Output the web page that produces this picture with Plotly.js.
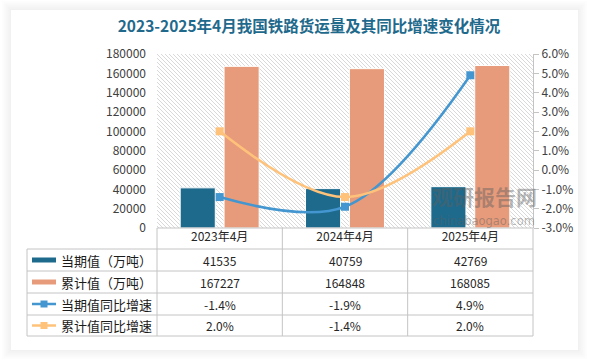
<!DOCTYPE html>
<html>
<head>
<meta charset="utf-8">
<script src="https://cdn.plot.ly/plotly-3.0.1.min.js"></script>
<style>html,body{margin:0;padding:0;background:#fff;}#chart{width:589px;height:359px;}</style>
</head>
<body>
<div id="chart"></div>
<script>
// ---- data ----
const categories = ['2023年4月', '2024年4月', '2025年4月'];
const currentVals = [41535, 40759, 42769];      // 当期值（万吨）
const cumulativeVals = [167227, 164848, 168085]; // 累计值（万吨）
const currentYoY = [-1.4, -1.9, 4.9];            // 当期值同比增速 (%)
const cumulativeYoY = [2.0, -1.4, 2.0];          // 累计值同比增速 (%)
const seriesNames = ['当期值（万吨）', '累计值（万吨）', '当期值同比增速', '累计值同比增速'];
const leftTicks = [0, 20000, 40000, 60000, 80000, 100000, 120000, 140000, 160000, 180000];
const rightTicks = [-3, -2, -1, 0, 1, 2, 3, 4, 5, 6];
const titleText = '2023-2025年4月我国铁路货运量及其同比增速变化情况';

// ---- style ----
const W = 589, H = 359;
const L = 157, R = 533, T = 54, B = 228;
const fx = px => (px - L) / (R - L);
const fy = py => (B - py) / (B - T);
const cBlue = '#1d6a8d', cOrange = '#e79b7b', cLineBlue = '#4396cf', cLineOrange = '#ffc27a';
const gridC = '#c4c4c4';
const fontFam = '"Noto Sans CJK SC", "Noto Sans", sans-serif';

const traces = [
  {type: 'bar', name: seriesNames[0], x: categories, y: currentVals, yaxis: 'y',
   marker: {color: cBlue, line: {color: '#ffffff', width: 1}}, hoverinfo: 'none'},
  {type: 'bar', name: seriesNames[1], x: categories, y: cumulativeVals, yaxis: 'y',
   marker: {color: cOrange, line: {color: '#ffffff', width: 1}}, hoverinfo: 'none'},
  {type: 'scatter', mode: 'lines+markers', name: seriesNames[2], x: categories, y: currentYoY, yaxis: 'y2',
   line: {color: cLineBlue, width: 2.5, shape: 'spline', smoothing: 1},
   marker: {symbol: 'square', size: 8, color: cLineBlue}, hoverinfo: 'none'},
  {type: 'scatter', mode: 'lines+markers', name: seriesNames[3], x: categories, y: cumulativeYoY, yaxis: 'y2',
   line: {color: cLineOrange, width: 2.5, shape: 'spline', smoothing: 1},
   marker: {symbol: 'square', size: 8, color: cLineOrange}, hoverinfo: 'none'}
];

const shapes = [];
const annotations = [];

// card shadow (margins only)
for (let k = 1; k <= 9; k++) {
  const a = 0.055 * (1 - (k - 1) / 9);
  shapes.push({type: 'rect', xref: 'paper', yref: 'paper',
    x0: fx(11 - k + 0.5), x1: fx(578 + k - 0.5), y0: fy(350 + k - 0.5), y1: fy(10 - k + 0.5),
    line: {color: `rgba(0,0,0,${a.toFixed(3)})`, width: 1}, fillcolor: 'rgba(0,0,0,0)', layer: 'above'});
}

// data table grid
const rowY = [249, 271, 293, 315, 336];
rowY.forEach(y => shapes.push({type: 'line', xref: 'paper', yref: 'paper',
  x0: fx(27), x1: fx(R), y0: fy(y), y1: fy(y), line: {color: gridC, width: 1}}));
shapes.push({type: 'line', xref: 'paper', yref: 'paper', x0: fx(L), x1: fx(R), y0: fy(B), y1: fy(B), line: {color: gridC, width: 1}});
shapes.push({type: 'line', xref: 'paper', yref: 'paper', x0: fx(27), x1: fx(27), y0: fy(249), y1: fy(336), line: {color: gridC, width: 1}});
const colX = [L, L + (R - L) / 3, L + 2 * (R - L) / 3, R];
colX.forEach(x => shapes.push({type: 'line', xref: 'paper', yref: 'paper',
  x0: fx(x), x1: fx(x), y0: fy(B), y1: fy(336), line: {color: gridC, width: 1}}));

// legend keys in table
const rowMid = [260, 282, 304, 325.5];
shapes.push({type: 'rect', xref: 'paper', yref: 'paper', x0: fx(32), x1: fx(56), y0: fy(262.5), y1: fy(257.5), fillcolor: cBlue, line: {width: 0}});
shapes.push({type: 'rect', xref: 'paper', yref: 'paper', x0: fx(32), x1: fx(56), y0: fy(284.5), y1: fy(279.5), fillcolor: cOrange, line: {width: 0}});
[[2, cLineBlue], [3, cLineOrange]].forEach(([i, c]) => {
  shapes.push({type: 'line', xref: 'paper', yref: 'paper', x0: fx(32), x1: fx(56), y0: fy(rowMid[i]), y1: fy(rowMid[i]), line: {color: c, width: 2.5}});
  shapes.push({type: 'rect', xref: 'paper', yref: 'paper', x0: fx(40.5), x1: fx(47.5), y0: fy(rowMid[i] + 3.5), y1: fy(rowMid[i] - 3.5), fillcolor: c, line: {width: 0}});
});
seriesNames.forEach((n, i) => annotations.push({xref: 'paper', yref: 'paper', x: fx(59), y: fy(rowMid[i]),
  xanchor: 'left', yanchor: 'middle', text: n, showarrow: false, font: {family: fontFam, size: 13, color: '#1a1a1a'}}));

// table values
const rows = [
  currentVals.map(v => String(v)),
  cumulativeVals.map(v => String(v)),
  currentYoY.map(v => v.toFixed(1) + '%'),
  cumulativeYoY.map(v => v.toFixed(1) + '%')
];
rows.forEach((r, i) => r.forEach((t, j) => annotations.push({xref: 'x', yref: 'paper', x: categories[j], y: fy(rowMid[i]),
  xanchor: 'center', yanchor: 'middle', text: t, showarrow: false, font: {family: fontFam, size: 12, color: '#262626'}})));

// watermark
annotations.push({xref: 'paper', yref: 'paper', x: fx(484), y: fy(196), text: '<b>观研报告网</b>', showarrow: false,
  xanchor: 'center', yanchor: 'middle', font: {family: fontFam, size: 21, color: 'rgba(95,95,95,0.45)'}});
annotations.push({xref: 'paper', yref: 'paper', x: fx(484), y: fy(221), text: 'chinabaogao.com', showarrow: false,
  xanchor: 'center', yanchor: 'middle', font: {family: '"DejaVu Sans", sans-serif', size: 11.5, color: 'rgba(95,95,95,0.45)'}});

// hatched plot background
const svg = `<svg xmlns='http://www.w3.org/2000/svg' width='${R - L}' height='${B - T}'><defs><pattern id='p' width='4' height='4' patternUnits='userSpaceOnUse'><path d='M-1,-1 L5,5 M3,-1 L5,1 M-1,3 L1,5' stroke='#cfcfcf' stroke-width='0.8'/></pattern></defs><rect width='100%' height='100%' fill='#ffffff'/><rect width='100%' height='100%' fill='url(#p)'/></svg>`;
const images = [{source: 'data:image/svg+xml;charset=utf-8,' + encodeURIComponent(svg), xref: 'paper', yref: 'paper',
  x: 0, y: 1, sizex: 1, sizey: 1, sizing: 'stretch', xanchor: 'left', yanchor: 'top', layer: 'below'}];

const layout = {
  width: W, height: H,
  margin: {l: L, r: W - R, t: T, b: H - B, pad: 0},
  paper_bgcolor: '#ffffff', plot_bgcolor: 'rgba(0,0,0,0)',
  showlegend: false,
  barmode: 'group', bargap: 0.30, bargroupgap: 0.2,
  title: {text: titleText, x: 309 / W, xanchor: 'center', y: 1 - 27 / H, yanchor: 'middle', yref: 'container',
    font: {family: fontFam, size: 15.5, color: '#1f6a8c', weight: 'bold'}},
  xaxis: {type: 'category', showgrid: false, zeroline: false, showline: false, ticks: '',
    tickfont: {family: fontFam, size: 12, color: '#262626'}, fixedrange: true},
  yaxis: {range: [0, 180000], tickvals: leftTicks, ticktext: leftTicks.map(v => String(v)),
    showgrid: false, zeroline: false, showline: false, ticks: '',
    ticklabelstandoff: 10, tickfont: {family: fontFam, size: 12, color: '#404040'}, fixedrange: true},
  yaxis2: {overlaying: 'y', side: 'right', range: [-3, 6], tickvals: rightTicks, ticktext: rightTicks.map(v => v.toFixed(1) + '%'),
    showgrid: false, zeroline: false, showline: true, linecolor: gridC, linewidth: 1, ticks: 'outside', ticklen: 5, tickcolor: gridC,
    tickfont: {family: fontFam, size: 12, color: '#404040'}, fixedrange: true},
  shapes: shapes, annotations: annotations, images: images
};

Plotly.newPlot('chart', traces, layout, {displayModeBar: false, staticPlot: true});
</script>
</body>
</html>
